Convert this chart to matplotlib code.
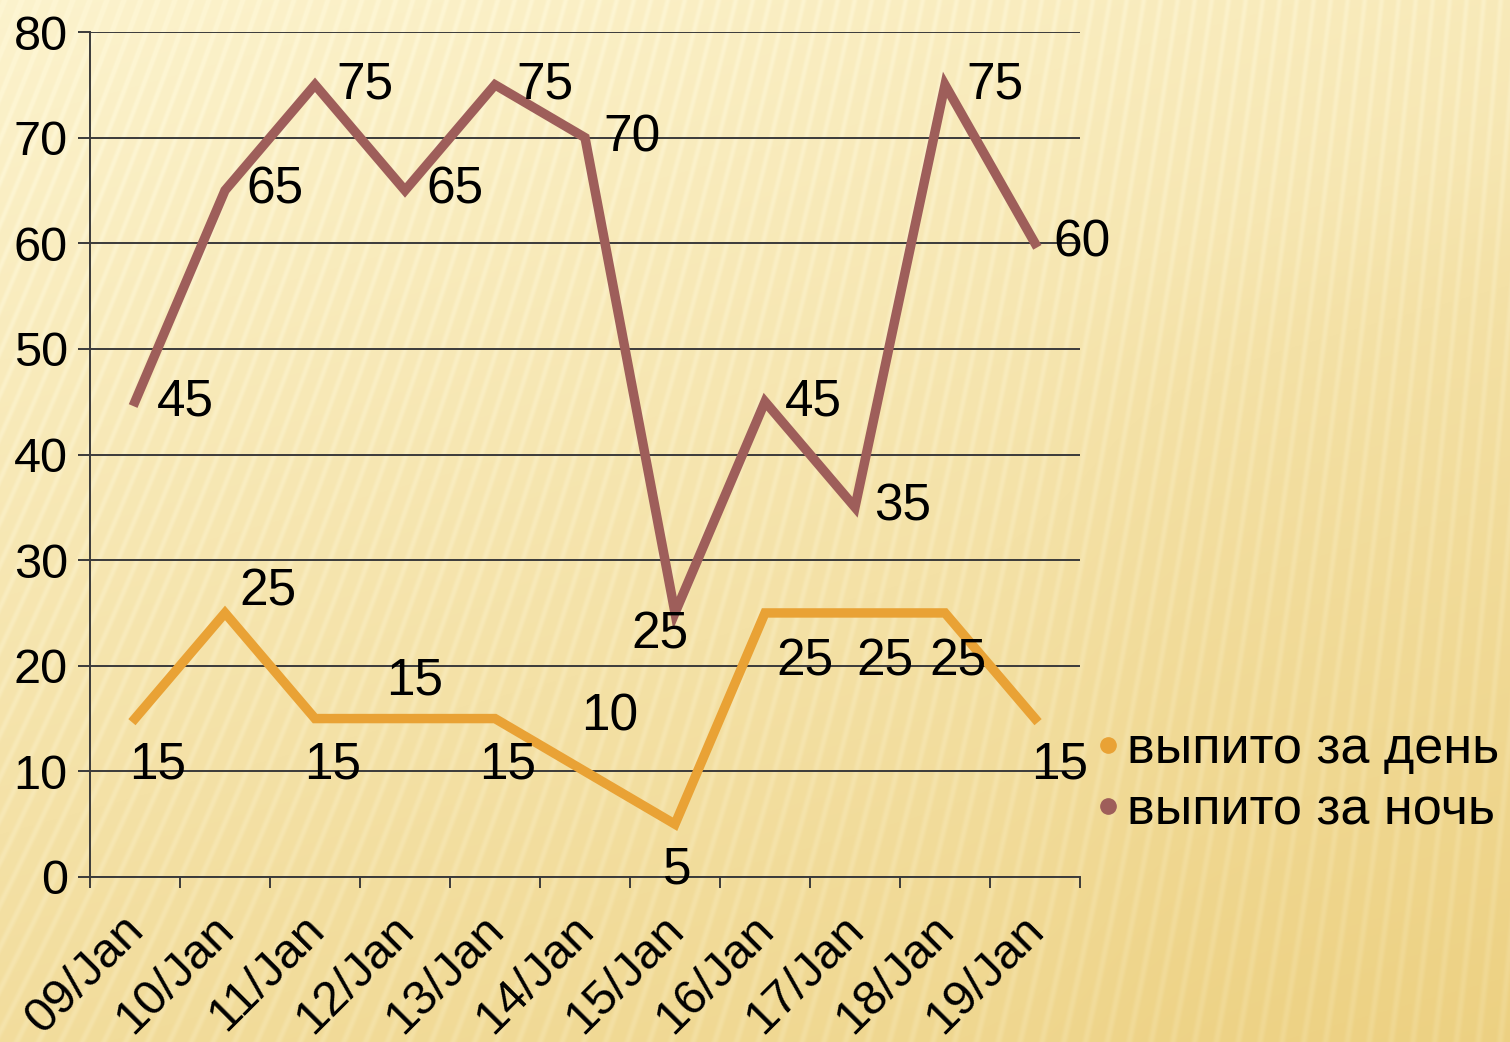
import numpy as np
import matplotlib.pyplot as plt
import matplotlib.transforms as mtrans
from matplotlib.lines import Line2D

plt.rcParams['font.family'] = ['Liberation Sans', 'DejaVu Sans']

# data
dates = ['09/Jan', '10/Jan', '11/Jan', '12/Jan', '13/Jan', '14/Jan',
         '15/Jan', '16/Jan', '17/Jan', '18/Jan', '19/Jan']
day = [15, 25, 15, 15, 15, 10, 5, 25, 25, 25, 15]
night = [45, 65, 75, 65, 75, 70, 25, 45, 35, 75, 60]
label_day = 'выпито за день'
label_night = 'выпито за ночь'

# where each value label sits relative to its point (pixels)
off_day = [(23, -46), (43, 21), (18, -46), (10, 38), (13, -46), (25, 54),
           (2, -46), (40, -49), (30, -49), (13, -49), (25, -46)]
off_night = [(50, 0), (50, 0), (50, 0), (50, 0), (50, 0), (47, 0),
             (-15, -22), (48, 0), (48, 0), (50, 0), (47, 0)]

c_day = '#E9A235'
c_night = '#9E5E5A'

W, H = 1510, 1042
fig = plt.figure(figsize=(W / 100, H / 100), dpi=100)

# slide background: cream gradient with fine stripes
bg = fig.add_axes([0, 0, 1, 1])
yy, xx = np.mgrid[0:H, 0:W].astype(float)
t = 0.55 * yy / H + 0.22 * xx / W
slant = 0.40 - 0.32 * xx / W
phase = np.sin(2 * np.pi * (xx + slant * yy) / 17.0)
stripe = np.clip(phase, 0, 1) ** 2
t = t - 0.16 * stripe + 0.06
# soft darker band at the right, like the slide decoration
edge = (yy - (330 - (xx - 1100) * 0.3)) / 40.0
band = 1 / (1 + np.exp(-edge)) / (1 + np.exp(-(xx - 1100) / 40.0))
t = np.clip(t + 0.08 * band, 0, 1)
light = np.array([253, 245, 210]) / 255
dark = np.array([235, 205, 122]) / 255
img = light[None, None, :] * (1 - t[..., None]) + dark[None, None, :] * t[..., None]
bg.imshow(img, aspect='auto', extent=[0, W, H, 0])
bg.set_axis_off()

ax = fig.add_axes([90 / W, 1 - 877 / H, 990 / W, 845 / H])
ax.patch.set_alpha(0)
x = np.arange(len(dates))

ax.plot(x, night, color=c_night, lw=6.8, solid_joinstyle='miter', zorder=3)
ax.plot(x, day, color=c_day, lw=6.8, solid_joinstyle='miter', zorder=3)

for xi, v, o in zip(x, night, off_night):
    ax.annotate(str(v), (xi, v), xytext=o, textcoords='offset pixels',
                ha='center', va='center', fontsize=37, zorder=4)
for xi, v, o in zip(x, day, off_day):
    ax.annotate(str(v), (xi, v), xytext=o, textcoords='offset pixels',
                ha='center', va='center', fontsize=37, zorder=4)

ax.set_xlim(-0.5, len(dates) - 0.5)
ax.set_ylim(0, 80)
ax.set_yticks(range(0, 81, 10))
ax.yaxis.grid(True, color='#3a3a3a', lw=1.4)
ax.set_axisbelow(True)
ax.tick_params(axis='y', labelsize=35, length=9, width=1.4, color='#3a3a3a', pad=7)

ax.set_xticks(x)
ax.set_xticks(np.arange(-0.5, len(dates)), minor=True)
ax.tick_params(axis='x', which='major', length=0, pad=2)
ax.tick_params(axis='x', which='minor', length=8, width=1.4, color='#3a3a3a')
ax.set_xticklabels(dates, rotation=45, ha='right', va='top',
                   rotation_mode='anchor', fontsize=35)
shift = mtrans.ScaledTranslation(-0.14, -0.27, fig.dpi_scale_trans)
for lab in ax.get_xticklabels():
    lab.set_transform(lab.get_transform() + shift)

for s in ['top', 'right']:
    ax.spines[s].set_visible(False)
for s in ['left', 'bottom']:
    ax.spines[s].set_color('#3a3a3a')
    ax.spines[s].set_linewidth(1.4)

handles = [Line2D([], [], ls='none', marker='o', ms=11, color=c_day),
           Line2D([], [], ls='none', marker='o', ms=11, color=c_night)]
fig.legend(handles, [label_day, label_night], loc='center left',
           bbox_to_anchor=(1096 / W, 1 - 780 / H), frameon=False, fontsize=37.5,
           handlelength=0.45, handletextpad=0.15, labelspacing=0.24,
           borderpad=0, borderaxespad=0)

fig.savefig('out.png', dpi=100)
